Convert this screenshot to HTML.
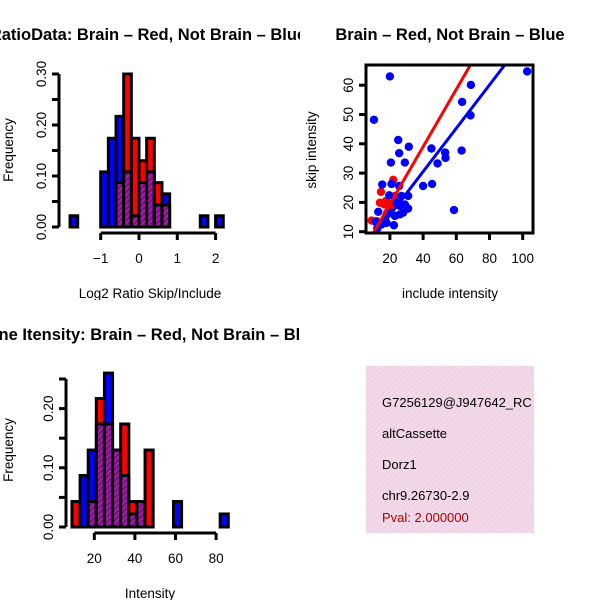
<!DOCTYPE html>
<html><head><meta charset="utf-8"><style>
html,body{margin:0;padding:0;background:#fff;}
svg text{font-family:"Liberation Sans",sans-serif;}
</style></head><body>
<svg id="chart" width="600" height="600" viewBox="0 0 600 600" xmlns="http://www.w3.org/2000/svg">
<defs>
<pattern id="purp" width="4" height="4" patternUnits="userSpaceOnUse" patternTransform="rotate(45)">
<rect width="4" height="4" fill="#a020a8"/><rect width="2" height="4" fill="#7a1080"/>
</pattern>
<pattern id="pink" width="4" height="4" patternUnits="userSpaceOnUse" patternTransform="rotate(45)">
<rect width="4" height="4" fill="#f8d6f2"/><rect width="1.2" height="4" fill="#e2d8d0"/>
</pattern>
<clipPath id="c1"><rect x="0" y="0" width="300" height="300"/></clipPath>
<clipPath id="c3"><rect x="0" y="300" width="300" height="300"/></clipPath>
<clipPath id="c2"><rect x="366" y="65" width="167" height="168"/></clipPath>
<clipPath id="c4"><rect x="366" y="366" width="168" height="167"/></clipPath>
</defs>
<g id="p1" clip-path="url(#c1)"></g>
<g id="p2"></g>
<g id="p3" clip-path="url(#c3)"></g>
<g id="p4">
<rect x="366" y="366" width="168" height="167" fill="url(#pink)"/>
<g clip-path="url(#c4)" font-size="13">
<text x="382" y="407">G7256129@J947642_RC</text>
<text x="382" y="438">altCassette</text>
<text x="382" y="469">Dorz1</text>
<text x="382" y="500">chr9.26730-2.9</text>
<text x="382" y="522" fill="#b00000">Pval: 2.000000</text>
</g>
</g>
</svg>
<script>
// Panel 1 data: log2 ratio histogram (bin left edges, width 0.2)
const ratioBlueBins = [-1.8,-1.0,-0.8,-0.6,-0.4,-0.2,0.0,0.2,0.4,0.6,1.6,2.0];
const ratioBlueFreq = [0.022,0.108,0.174,0.217,0.108,0.022,0.087,0.108,0.043,0.065,0.022,0.022];
const ratioRedBins = [-0.6,-0.4,-0.2,0.0,0.2,0.4,0.6];
const ratioRedFreq = [0.087,0.30,0.174,0.13,0.174,0.087,0.043];
const ratioXTicks = [-1,0,1,2];
const ratioYTicks = [0,0.05,0.10,0.15,0.20,0.25,0.30];
const ratioYLabels = ["0.00","","0.10","","0.20","","0.30"];
// Panel 3 data: intensity histogram (bin left edges, width 4)
const intBlueBins = [13,17,21,25,29,33,37,41,59,82];
const intBlueFreq = [0.087,0.13,0.174,0.26,0.13,0.087,0.022,0.043,0.043,0.022];
const intRedBins = [9,17,21,25,29,33,37,41,45];
const intRedFreq = [0.043,0.043,0.217,0.174,0.13,0.174,0.043,0.043,0.13];
const intXTicks = [20,40,60,80];
const intYTicks = [0,0.05,0.10,0.15,0.20,0.25];
const intYLabels = ["0.00","","0.10","","0.20",""];
// Panel 2 data: scatter include vs skip
const blueX = [20,10.4,25,25.6,31.4,20.6,29,45,48.7,53.3,53.5,63.2,63.5,68.8,68.6,102.7,58.6,40,45.4,15.4,21,25.6,19.6,13,11.4,12.4,18,22.4,26,28,31,31,27,24,20,23,17,26,29,15];
const blueY = [63,48.2,41.3,36.8,39,33.6,33.6,38.4,33.3,37,35.2,37.7,54.3,60.1,49.7,64.7,17.4,25.6,26.3,26.1,26.3,25.6,22.4,16.8,13.4,11.1,13,12.2,18.8,16.5,17.9,22.2,22.2,20,16.5,15.4,14.2,15.9,19.3,12.5];
const redX = [9,14.6,14,16.6,22,21,19,12,18.4,23,17.6];
const redY = [13.8,23.6,19.9,19.3,27.7,19,18.8,13.6,16.5,22.2,20.5];
const redFit = [-0.2,0.98];
const blueFit = [0.9,0.74];
const scXTicks = [20,40,60,80,100];
const scYTicks = [10,20,30,40,50,60];

const NS="http://www.w3.org/2000/svg";
function mk(parent,tag,attrs,txt){const e=document.createElementNS(NS,tag);for(const k in attrs)e.setAttribute(k,attrs[k]);if(txt!==undefined)e.textContent=txt;parent.appendChild(e);return e;}

function hist(g,o){
  const sx=v=>o.x0+(v-o.xv0)*o.xs, sy=v=>o.y0-v*o.ys;
  const all={};
  o.bb.forEach((b,i)=>{all[b]=all[b]||{b:0,r:0};all[b].b=o.bf[i];});
  o.rb.forEach((b,i)=>{all[b]=all[b]||{b:0,r:0};all[b].r=o.rf[i];});
  Object.keys(all).map(Number).sort((a,b)=>a-b).forEach(k=>{
    const d=all[k]; const x1=sx(k), x2=sx(k+o.w);
    const hi=Math.max(d.b,d.r), lo=Math.min(d.b,d.r);
    const col=d.b>=d.r?'#0000ff':'#ff0000';
    const r=mk(g,'rect',{x:x1,y:sy(hi),width:x2-x1,height:sy(0)-sy(hi),fill:col,stroke:'#000','stroke-width':3});
    
    
    if(lo>0){
      const p=mk(g,'rect',{x:x1,y:sy(lo),width:x2-x1,height:sy(0)-sy(lo),fill:'url(#purp)',stroke:'#000','stroke-width':3});
      
      
    }
  });
  const xa=mk(g,'g',{});
  
  
  mk(xa,'line',{x1:sx(o.xt[0]),x2:sx(o.xt[o.xt.length-1]),y1:o.xay,y2:o.xay,stroke:'#000','stroke-width':3});
  o.xt.forEach(t=>{mk(xa,'line',{x1:sx(t),x2:sx(t),y1:o.xay,y2:o.xay+7,stroke:'#000','stroke-width':3});
    const tl=mk(xa,'text',{x:sx(t),y:o.xay+30,'text-anchor':'middle','font-size':13.5},t<0?'\u2212'+Math.abs(t):String(t));
    
    });
  const ya=mk(g,'g',{});
  
  
  mk(ya,'line',{x1:o.yax,x2:o.yax,y1:sy(o.yt[0]),y2:sy(o.yt[o.yt.length-1]),stroke:'#000','stroke-width':3});
  o.yt.forEach((t,i)=>{mk(ya,'line',{x1:o.yax,x2:o.yax-7,y1:sy(t),y2:sy(t),stroke:'#000','stroke-width':3});
    if(o.yl[i]){const tl=mk(ya,'text',{x:0,y:0,'text-anchor':'middle','font-size':13.5,transform:`translate(${o.yax-13},${sy(t)}) rotate(-90)`},o.yl[i]);
    
    }});
  const t=mk(g,'text',{x:o.tx,y:o.ty,'text-anchor':'middle','font-size':16.5,'font-weight':'bold'},o.title);
  
  
  const xl=mk(g,'text',{x:150,y:o.xly,'text-anchor':'middle','font-size':13.5},o.xlab);
  
  
  const yl=mk(g,'text',{x:0,y:0,'text-anchor':'middle','font-size':13.5,transform:`translate(13,${o.ylc}) rotate(-90)`},'Frequency');
  
  
}

hist(document.getElementById('p1'),{x0:139,xv0:0,xs:38.3,y0:227,ys:510,w:0.2,
  bb:ratioBlueBins,bf:ratioBlueFreq,rb:ratioRedBins,rf:ratioRedFreq,xt:ratioXTicks,yt:ratioYTicks,yl:ratioYLabels,
  xay:233,yax:59,tx:148,ty:40,title:'RatioData: Brain \u2013 Red, Not Brain \u2013 Blue',xly:298,xlab:'Log2 Ratio Skip/Include',ylc:150});
hist(document.getElementById('p3'),{x0:94.3,xv0:20,xs:2.03,y0:527,ys:592,w:4,
  bb:intBlueBins,bf:intBlueFreq,rb:intRedBins,rf:intRedFreq,xt:intXTicks,yt:intYTicks,yl:intYLabels,
  xay:533,yax:66,tx:148,ty:340,title:'Gene Itensity: Brain \u2013 Red, Not Brain \u2013 Blue',xly:598,xlab:'Intensity',ylc:450});

(function(){
  const g=document.getElementById('p2');
  const sx=v=>356.7+v*1.66, sy=v=>261-v*2.93;
  const pts=mk(g,'g',{'clip-path':'url(#c2)'});
  redX.forEach((x,i)=>{const c=mk(pts,'circle',{cx:sx(x),cy:sy(redY[i]),r:4.2,fill:'#ff0000'});
    
    });
  blueX.forEach((x,i)=>{const c=mk(pts,'circle',{cx:sx(x),cy:sy(blueY[i]),r:4.2,fill:'#0000ff'});
    
    });
  const l1=mk(pts,'line',{x1:sx(0),y1:sy(redFit[0]),x2:sx(120),y2:sy(redFit[0]+redFit[1]*120),stroke:'#ff0000','stroke-width':3});
  
  
  const l2=mk(pts,'line',{x1:sx(0),y1:sy(blueFit[0]),x2:sx(120),y2:sy(blueFit[0]+blueFit[1]*120),stroke:'#0000ff','stroke-width':3});
  
  
  const b=mk(g,'rect',{x:366,y:65,width:167,height:168,fill:'none',stroke:'#000','stroke-width':3});
  
  
  scXTicks.forEach(t=>{mk(g,'line',{x1:sx(t),x2:sx(t),y1:233,y2:240,stroke:'#000','stroke-width':3});
    const tl=mk(g,'text',{x:sx(t),y:263,'text-anchor':'middle','font-size':13.5},String(t));
    
    });
  scYTicks.forEach(t=>{mk(g,'line',{x1:366,x2:359,y1:sy(t),y2:sy(t),stroke:'#000','stroke-width':3});
    const tl=mk(g,'text',{x:0,y:0,'text-anchor':'middle','font-size':13.5,transform:`translate(${353},${sy(t)}) rotate(-90)`},String(t));
    
    });
  const t=mk(g,'text',{x:450,y:40,'text-anchor':'middle','font-size':16.5,'font-weight':'bold'},'Brain \u2013 Red, Not Brain \u2013 Blue');
  
  
  const xl=mk(g,'text',{x:450,y:298,'text-anchor':'middle','font-size':13.5},'include intensity');
  
  
  const yl=mk(g,'text',{x:0,y:0,'text-anchor':'middle','font-size':13.5,transform:'translate(316,150) rotate(-90)'},'skip intensity');
  
  
})();
</script>
</body></html>
